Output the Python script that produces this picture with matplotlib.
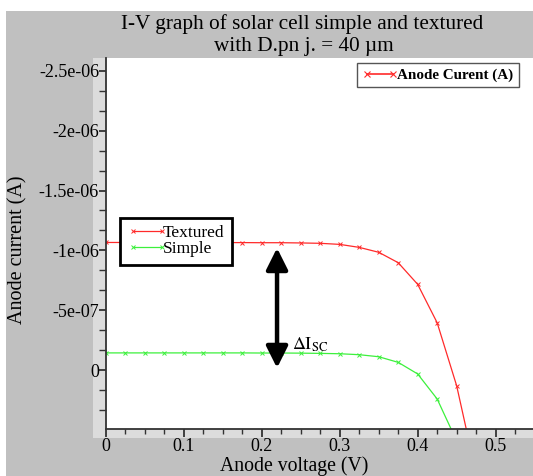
import matplotlib
matplotlib.use("Agg")
import matplotlib.pyplot as plt
from matplotlib.patches import Rectangle
from matplotlib.lines import Line2D
from matplotlib.ticker import FixedLocator, FuncFormatter, MultipleLocator

# ---------------- data ----------------
voltage_textured = [0.0, 0.025, 0.05, 0.075, 0.1, 0.125, 0.15, 0.175, 0.2, 0.225,
                    0.25, 0.275, 0.3, 0.325, 0.35, 0.375, 0.4, 0.425, 0.45, 0.475]
current_textured = [-1.066e-6, -1.066e-6, -1.066e-6, -1.066e-6, -1.065e-6, -1.065e-6,
                    -1.065e-6, -1.065e-6, -1.064e-6, -1.064e-6, -1.062e-6, -1.059e-6,
                    -1.050e-6, -1.025e-6, -0.984e-6, -0.897e-6, -0.716e-6, -0.395e-6,
                    0.131e-6, 0.865e-6]

voltage_simple = [0.0, 0.025, 0.05, 0.075, 0.1, 0.125, 0.15, 0.175, 0.2, 0.225,
                  0.25, 0.275, 0.3, 0.325, 0.35, 0.375, 0.4, 0.425, 0.45]
current_simple = [-0.143e-6, -0.143e-6, -0.143e-6, -0.143e-6, -0.143e-6, -0.143e-6,
                  -0.143e-6, -0.143e-6, -0.142e-6, -0.142e-6, -0.141e-6, -0.139e-6,
                  -0.136e-6, -0.128e-6, -0.111e-6, -0.064e-6, 0.033e-6, 0.242e-6,
                  0.593e-6]

x_major_ticks = [0, 0.1, 0.2, 0.3, 0.4, 0.5]
x_tick_labels = ["0", "0.1", "0.2", "0.3", "0.4", "0.5"]
y_major_ticks = [-2.5e-6, -2e-6, -1.5e-6, -1e-6, -5e-7, 0]
y_tick_labels = ["-2.5e-06", "-2e-06", "-1.5e-06", "-1e-06", "-5e-07", "0"]

title_line1 = "I-V graph of solar cell simple and textured"
title_line2 = "with D.pn j. = 40 \u00b5m"
x_label = "Anode voltage (V)"
y_label = "Anode current (A)"
legend_main_label = "Anode Curent (A)"
series_labels = ["Textured", "Simple"]

# Delta Isc annotation (arrow between the two short-circuit currents)
arrow_voltage = 0.2195
arrow_top = -1.02e-6
arrow_bottom = -0.017e-6

# ---------------- figure ----------------
W, H = 533, 476
DPI = 100
plt.rcParams["font.family"] = ["Liberation Serif", "DejaVu Serif"]
plt.rcParams["mathtext.fontset"] = "stix"

fig = plt.figure(figsize=(W / DPI, H / DPI), dpi=DPI, facecolor="white")

def fx(px):
    return px / W

def fy(py):
    return (H - py) / H

GRAY = "#c0c0c0"
LIGHT = "#dcdcdc"

# grey panel
fig.add_artist(Rectangle((fx(6), 0), 1 - fx(6), fy(11), transform=fig.transFigure,
                         facecolor=GRAY, edgecolor="none", zorder=-3))
# light strips along axes
fig.add_artist(Rectangle((fx(93), fy(437.7)), fx(106) - fx(93), fy(57.5) - fy(437.7),
                         transform=fig.transFigure, facecolor=LIGHT, edgecolor="none", zorder=-2))
fig.add_artist(Rectangle((fx(93), fy(437.7)), 1 - fx(93), fy(429) - fy(437.7),
                         transform=fig.transFigure, facecolor=LIGHT, edgecolor="none", zorder=-2))

ax = fig.add_axes([fx(106), fy(429), 1 - fx(106), fy(57.5) - fy(429)])
ax.set_facecolor("white")

ax.set_xlim(0, 0.548)
ax.set_ylim(0.493e-6, -2.612e-6)

ln_t, = ax.plot(voltage_textured, current_textured, color="#ff2a2a", lw=0.9,
                marker="x", ms=3.5, mew=0.7, label=series_labels[0], clip_on=True)
ln_s, = ax.plot(voltage_simple, current_simple, color="#3cf03c", lw=0.9,
                marker="x", ms=3.5, mew=0.7, label=series_labels[1], clip_on=True)

for s in ["top", "right"]:
    ax.spines[s].set_visible(False)
for s in ["left", "bottom"]:
    ax.spines[s].set_linewidth(1.3)
    ax.spines[s].set_color("#333333")

ax.xaxis.set_major_locator(FixedLocator(x_major_ticks))
ax.xaxis.set_major_formatter(FuncFormatter(
    lambda v, p: x_tick_labels[x_major_ticks.index(round(v, 3))] if round(v, 3) in x_major_ticks else ""))
ax.xaxis.set_minor_locator(MultipleLocator(0.025))
ax.yaxis.set_major_locator(FixedLocator(y_major_ticks))
ax.yaxis.set_major_formatter(FuncFormatter(
    lambda v, p: y_tick_labels[p] if p is not None and p < len(y_tick_labels) else "%g" % v))
ax.yaxis.set_minor_locator(MultipleLocator(5e-7 / 3))

ax.tick_params(axis="x", which="major", direction="out", length=6, width=1.3,
               color="#333333", labelsize=13, pad=0.5)
ax.tick_params(axis="x", which="minor", direction="out", length=3.5, width=1.0, color="#333333")
ax.tick_params(axis="y", which="major", direction="out", length=5, width=1.3,
               color="#333333", labelsize=13, pad=0)
ax.tick_params(axis="y", which="minor", direction="out", length=5, width=1.0, color="#333333")

# titles and labels
fig.text(fx(302), fy(24), title_line1, ha="center", va="center", fontsize=15.3)
fig.text(fx(304), fy(46), title_line2, ha="center", va="center", fontsize=15.3)
fig.text(fx(294), fy(475.5), x_label, ha="center", va="bottom", fontsize=14.2)
fig.text(fx(17.5), fy(250), y_label, ha="center", va="center", rotation=90, fontsize=14.5)

# legends
h_main = Line2D([], [], color="#ff2a2a", lw=1.2, marker="x", ms=4, mew=0.8)
leg1 = ax.legend([h_main], [legend_main_label], loc="upper left",
                 bbox_to_anchor=(fx(357), fy(63)), bbox_transform=fig.transFigure,
                 borderaxespad=0, fancybox=False, framealpha=1, edgecolor="#555555",
                 prop={"family": "Liberation Serif", "weight": "bold", "size": 10.9},
                 handlelength=2.3, handletextpad=0.0, borderpad=0.35, numpoints=2)
leg1.get_frame().set_linewidth(1.0)
ax.add_artist(leg1)

leg2 = ax.legend([ln_t, ln_s], series_labels, loc="upper left",
                 bbox_to_anchor=(fx(120), fy(218)), bbox_transform=fig.transFigure,
                 borderaxespad=0, fancybox=False, framealpha=1, edgecolor="black",
                 prop={"family": "Liberation Serif", "size": 12.5},
                 handlelength=2.3, handletextpad=-0.25, borderpad=0.42,
                 labelspacing=-0.02, numpoints=2)
leg2.get_frame().set_linewidth(2.0)

# Delta Isc arrow
ax.annotate("", xy=(arrow_voltage, arrow_top), xytext=(arrow_voltage, arrow_bottom),
            arrowprops=dict(arrowstyle="<|-|>,head_length=1.3,head_width=0.65",
                            lw=3.2, color="black", shrinkA=0, shrinkB=0))
ax.text(arrow_voltage + 0.019, -0.17e-6, r"$\Delta \mathrm{I}_{\mathrm{SC}}$", fontsize=13,
        ha="left", va="baseline")

fig.savefig("out.png", dpi=DPI)
